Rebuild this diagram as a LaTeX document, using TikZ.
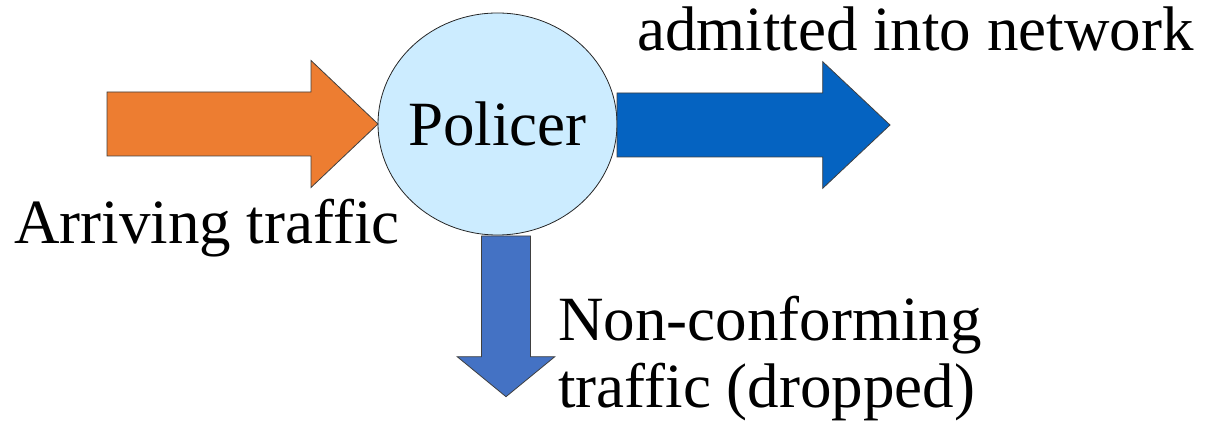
\documentclass[tikz,border=0pt]{standalone}
\usepackage{fontspec}
\setmainfont{LiberationSerif}[Extension=.ttf, UprightFont=*-Regular, BoldFont=*-Bold]
\usetikzlibrary{shapes.geometric,calc}

\definecolor{arrivecol}{HTML}{ED7D31}
\definecolor{admitcol}{HTML}{0563C1}
\definecolor{dropcol}{HTML}{4472C4}
\definecolor{policecol}{HTML}{CCECFF}

\tikzset{
    blockarrow/.style={draw=black!75, line width=0.8pt, line join=miter},
    label text/.style={inner sep=0pt, font=\fontsize{63}{67}\selectfont},
}

\begin{document}
\begin{tikzpicture}[x=1pt,y=-1pt]
                \useasboundingbox (0,0) rectangle (1207,427);

                \node (policer) [ellipse, draw=black!85, line width=0.8pt, fill=policecol,
                    minimum width=239pt, minimum height=222pt, inner sep=0pt, outer sep=0pt] at (497.5,124) {};
                \node (policertext) [label text] at (policer.center) {Policer};

                % arriving traffic, tip touches the policer
                \draw [blockarrow, fill=arrivecol, shift={(policer.west)}]
                    (0,0) -- (-67,-63.5) -- (-67,-32) -- (-271,-32)
                    -- (-271,32) -- (-67,32) -- (-67,63.5) -- cycle;

                % admitted traffic
                \coordinate (admitstart) at ($(policer.east)+(0,1)$);
                \draw [blockarrow, fill=admitcol, shift={(admitstart)}]
                    (0,-32) -- (205.7,-32) -- (205.7,-63.3) -- (273,0)
                    -- (205.7,63.3) -- (205.7,32) -- (0,32) -- cycle;

                % dropped traffic
                \coordinate (dropstart) at (506,236);
                \draw [blockarrow, fill=dropcol, shift={(dropstart)}]
                    (-24.5,0) -- (24.5,0) -- (24.5,120.7) -- (48.8,120.7)
                    -- (0,160.7) -- (-48.8,120.7) -- (-24.5,120.7) -- cycle;

                \node (admitted) [label text, anchor=base west] at (637,51) {admitted into network};
                \node (arriving) [label text, anchor=base west] at (14,244) {Arriving traffic};
                \node (dropped) [label text, anchor=base west, align=left] at (558,407) {Non-conforming\\traffic (dropped)};
            \end{tikzpicture}
\end{document}
